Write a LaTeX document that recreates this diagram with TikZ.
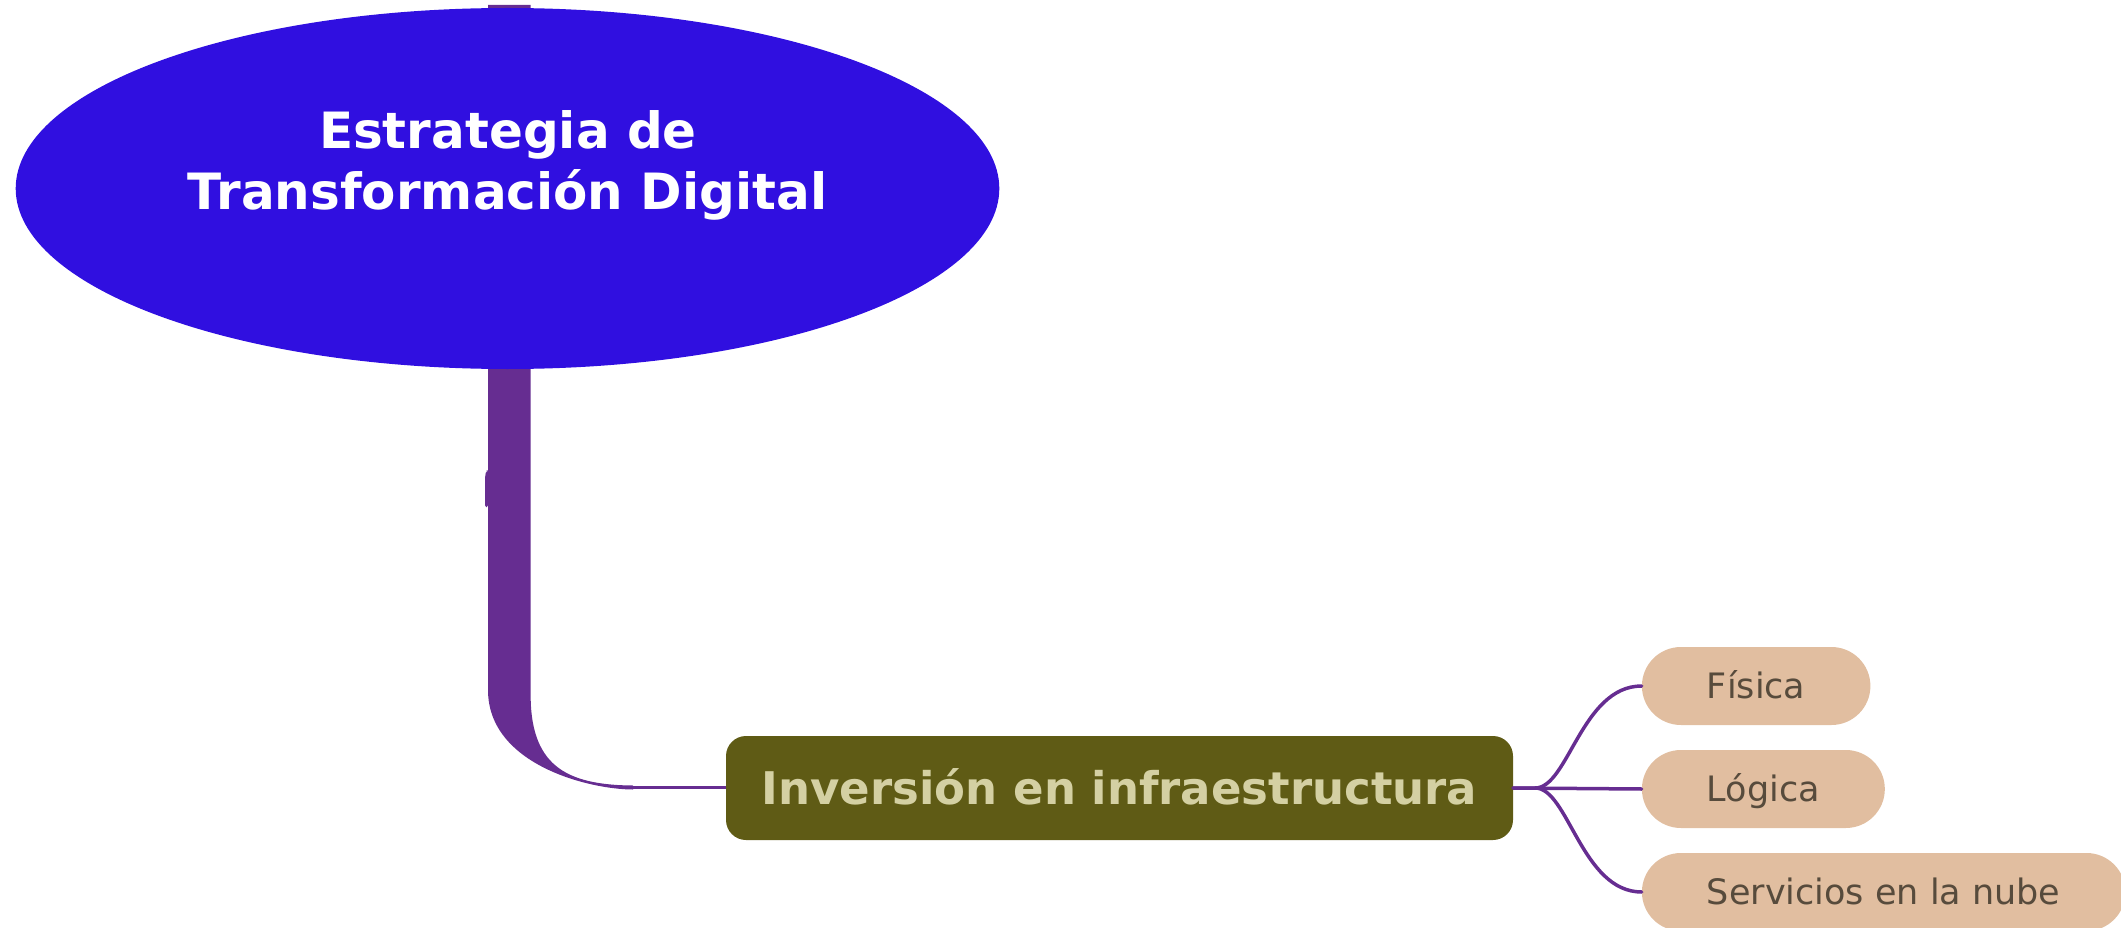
\documentclass[tikz,border=0pt]{standalone}
\usepackage{fontspec}
\setmainfont{DejaVu Sans}
\usetikzlibrary{shapes.geometric}
\definecolor{rootblue}{HTML}{300FE0}
\definecolor{trunk}{HTML}{662D91}
\definecolor{olive}{HTML}{5F5B15}
\definecolor{olivetext}{HTML}{D4D0A3}
\definecolor{pill}{HTML}{E1BEA0}
\definecolor{pilltext}{HTML}{574B3C}
\tikzset{
  rootnode/.style={ellipse, fill=rootblue, inner sep=0pt, minimum width=983.6pt, minimum height=361pt},
  titletext/.style={text=white, font=\fontsize{50}{61}\selectfont\bfseries, anchor=base, inner sep=0pt},
  mainnode/.style={rectangle, rounded corners=20pt, fill=olive, text=olivetext,
     font=\fontsize{45}{54}\selectfont\bfseries, minimum width=787pt, minimum height=104pt,
     text height=32.8pt, text depth=0pt, inner sep=0pt},
  leaf/.style={rectangle, rounded corners=39pt, fill=pill, text=pilltext,
     font=\fontsize{35}{42}\selectfont, minimum height=78pt, inner xsep=65pt, inner ysep=0pt,
     text height=25.5pt, text depth=0pt, anchor=west},
  conn/.style={draw=trunk, line width=3.5pt, line cap=round},
}
\begin{document}
\begin{tikzpicture}[x=1pt,y=-1pt]
\useasboundingbox (0,0) rectangle (2121,928);
% trunk (behind root)
\coordinate (ttl) at (488,5);
\coordinate (ttr) at (530.7,5);
\coordinate (tbl) at (488,690);
\coordinate (tbr) at (530.7,690);
\coordinate (tend) at (633,787.5);
\fill[trunk] (ttl) -- (tbl) .. controls (488,765) and (590,789.5) .. (633,789.5)
   -- (633,785.5) .. controls (565,785) and (529,765) .. (tbr) -- (ttr) -- cycle;
\fill[trunk] (485,507) -- (485,478) [rounded corners=2pt] -- (486,471) -- (488,470) -- (488,507) -- cycle;
% root
\node[rootnode] (root) at (507.5,188.5) {};
\node[titletext] (t1) at (508,148.3) {Estrategia de};
\node[titletext] (t2) at (507.5,209.3) {Transformación Digital};
% main node
\node[mainnode] (inv) at (1119.5,788) {Inversión en infraestructura};
\draw[trunk, line width=2.5pt] (tend) -- (inv.west |- tend);
% leaves
\node[leaf] (fis) at (1641.7,686) {Física};
\node[leaf] (log) at (1641.7,789) {Lógica};
\node[leaf] (ser) at (1641.7,892) {Servicios en la nube};
\coordinate (br) at ([xshift=22pt]inv.east);
\draw[conn] (inv.east) -- (br) .. controls +(33,0) and +(-60,0) .. (fis.west);
\draw[conn] (inv.east) -- (log.west);
\draw[conn] (br) .. controls +(33,0) and +(-60,0) .. (ser.west);
\end{tikzpicture}
\end{document}
